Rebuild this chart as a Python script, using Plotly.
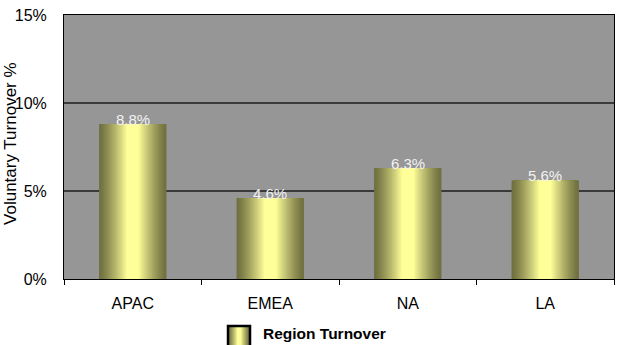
import plotly.graph_objects as go

# Voluntary turnover by region
regions = ["APAC", "EMEA", "NA", "LA"]
turnover_pct = [8.8, 4.6, 6.3, 5.6]
y_ticks = [0, 5, 10, 15]
y_tick_text = ["0%", "5%", "10%", "15%"]
series_name = "Region Turnover"
y_title = "Voluntary Turnover %"

FONT = "Arial, Liberation Sans, sans-serif"
EDGE = (112, 112, 64)
CENTER = (255, 255, 153)
BAR_WIDTH = 0.49
LAYERS = 28


def blend(t):
    t = min(1.0, t / 0.82)
    t = t ** 1.25
    r, g, b = (round(e + (c - e) * t) for e, c in zip(EDGE, CENTER))
    return f"rgb({r},{g},{b})"


fig = go.Figure()

# cylinder-like shading: stacked bars, each narrower and lighter toward the centre
for k in range(LAYERS):
    frac = k / LAYERS
    fig.add_trace(go.Bar(
        x=regions,
        y=turnover_pct,
        width=BAR_WIDTH * (1 - frac),
        marker=dict(color=blend(frac), line=dict(width=0)),
        showlegend=False,
        hoverinfo="skip" if k else "x+y",
        name=series_name,
    ))

# value labels sitting on the bar tops
for r, v in zip(regions, turnover_pct):
    fig.add_annotation(
        x=r, y=v, text=f"{v:.1f}%", showarrow=False,
        yanchor="bottom", yshift=-6,
        font=dict(family=FONT, size=15, color="#f2f2f2"),
    )

# y-axis title
fig.add_annotation(
    xref="paper", yref="paper", x=-0.0975, y=0.513,
    text=y_title, textangle=-90, showarrow=False,
    xanchor="center", yanchor="middle",
    font=dict(family=FONT, size=17, color="#000000"),
)

# legend: shaded key box plus bold label below the axis
key_x0, key_x1 = 0.2982, 0.3382
key_y0, key_y1 = -0.262, -0.178
steps = 12
for k in range(steps):
    frac = k / steps
    half = (key_x1 - key_x0) / 2 * (1 - frac)
    mid = (key_x0 + key_x1) / 2
    fig.add_shape(type="rect", xref="paper", yref="paper",
                  x0=mid - half, x1=mid + half, y0=key_y0, y1=key_y1,
                  fillcolor=blend(frac), line=dict(width=0), layer="above")
fig.add_shape(type="rect", xref="paper", yref="paper",
              x0=key_x0, x1=key_x1, y0=key_y0, y1=key_y1,
              fillcolor="rgba(0,0,0,0)", line=dict(color="#000000", width=2.5),
              layer="above")
fig.add_annotation(
    xref="paper", yref="paper", x=0.358, y=-0.207,
    text=f"<b>{series_name}</b>", showarrow=False,
    xanchor="left", yanchor="middle",
    font=dict(family=FONT, size=15.5, color="#000000"),
)

fig.update_layout(
    width=619, height=345,
    margin=dict(l=64, r=5, t=15, b=66),
    paper_bgcolor="#ffffff",
    plot_bgcolor="#969696",
    barmode="overlay",
    showlegend=False,
    font=dict(family=FONT, color="#000000"),
    xaxis=dict(
        type="category",
        tickson="boundaries",
        ticks="outside", ticklen=5, tickcolor="#000000", tickwidth=1,
        showline=True, linecolor="#000000", linewidth=1, mirror=True,
        showgrid=False,
        tickfont=dict(family=FONT, size=16, color="#000000"),
        ticklabelstandoff=10,
    ),
    yaxis=dict(
        range=[0, 15],
        tickvals=y_ticks, ticktext=y_tick_text,
        showgrid=True, gridcolor="#3a3a3a", gridwidth=1.5,
        showline=True, linecolor="#000000", linewidth=1, mirror=True,
        zeroline=False,
        ticks="",
        tickfont=dict(family=FONT, size=16, color="#000000"),
        ticklabelstandoff=13,
    ),
)

fig.write_html("out.html")
